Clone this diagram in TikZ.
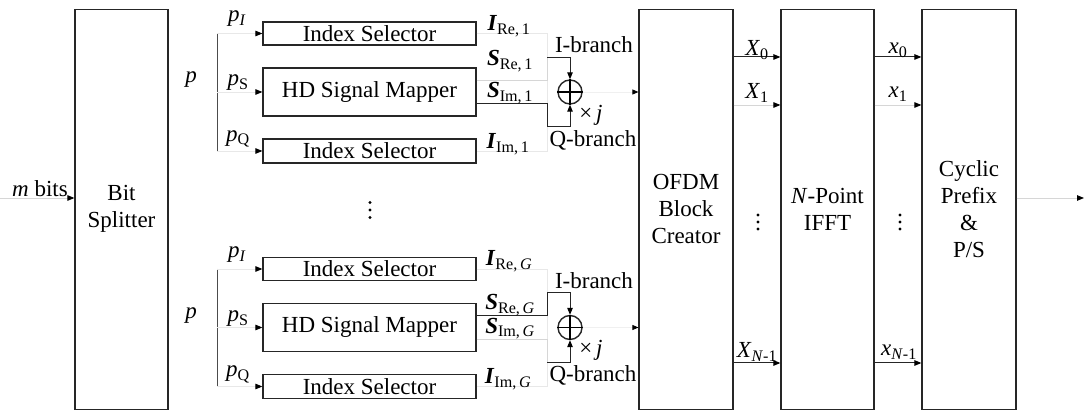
\documentclass[tikz,border=0pt]{standalone}
\usepackage{fontspec}
\setmainfont{Liberation Serif}
\usetikzlibrary{arrows.meta}
\tikzset{
  box/.style={draw=black!85, line width=1.2pt, align=center, inner sep=0pt},
  faint/.style={draw=black!16, line width=0.9pt},
  vfaint/.style={draw=black!9, line width=0.9pt},
  dark/.style={draw=black!85, line width=1pt},
  tip/.style={-{Triangle[length=7pt,width=5.5pt,black]}},
  lbl/.style={inner sep=0pt},
}
\begin{document}
\begin{tikzpicture}[x=1pt,y=-1pt,font=\fontsize{23}{27}\selectfont]
\useasboundingbox (0,0) rectangle (1084,411);
% main blocks
\node[box, minimum width=93pt, minimum height=400pt] (bs) at (121.5,209.3) {Bit\\Splitter};
\node[box, minimum width=94pt, minimum height=400pt] (ofdm) at (686,209.3) {OFDM\\Block\\Creator};
\node[box, minimum width=93pt, minimum height=400pt] (ifft) at (827.5,209.3) {\textit{N}-Point\\IFFT};
\node[box, minimum width=94pt, minimum height=400pt] (cp) at (969,209.3) {Cyclic\\Prefix\\\&\\P/S};
% input / output
\coordinate (in) at (0,198);
\coordinate (out) at (1084,198);
\draw[faint,tip] (in) -- (in -| bs.west);
\node[lbl] (mb) at (40,189) {\textit{m} bits};
\draw[faint,tip] (cp.east |- out) -- (out);
% rows between OFDM / IFFT / CP
\coordinate (r0) at (0,57);
\coordinate (r1) at (0,105);
\coordinate (r2) at (0,363);
\draw[dark,tip] (ofdm.east |- r0) -- (ifft.west |- r0);
\draw[faint,tip] (ofdm.east |- r1) -- (ifft.west |- r1);
\draw[dark,tip] (ofdm.east |- r2) -- (ifft.west |- r2);
\draw[dark,tip] (ifft.east |- r0) -- (cp.west |- r0);
\draw[faint,tip] (ifft.east |- r1) -- (cp.west |- r1);
\draw[dark,tip] (ifft.east |- r2) -- (cp.west |- r2);
\node[lbl] (X0) at (757,50) {\textit{X}\textsubscript{0}};
\node[lbl] (X1) at (757,93) {\textit{X}\textsubscript{1}};
\node[lbl] (XN) at (757,352) {\textit{X}\textsubscript{\textit{N}-1}};
\node[lbl] (x0) at (898,50) {\textit{x}\textsubscript{0}};
\node[lbl] (x1) at (898,94) {\textit{x}\textsubscript{1}};
\node[lbl] (xN) at (899,352) {\textit{x}\textsubscript{\textit{N}-1}};
\foreach \yy in {215,222,229} {
  \fill (758,\yy) circle (1.6);
  \fill (900,\yy) circle (1.6);
}
\foreach \yy in {202.5,210,217.5} { \fill (370,\yy) circle (1.6); }
% the two groups
\foreach \o/\n/\g/\sr/\sa/\sb in {0/a/1/61/faint/dark, 235.5/b/{\textit{G}}/305/dark/faint} {
  \node[box, minimum width=213pt, minimum height=23pt] (isa\n) at (369.5,33.5+\o) {Index Selector};
  \node[box, minimum width=213pt, minimum height=48pt] (hd\n) at (369.5,92+\o) {HD Signal Mapper};
  \node[box, minimum width=213pt, minimum height=24pt] (isb\n) at (369.5,151+\o) {Index Selector};
  % p splitting
  \coordinate (pt\n) at (217,33.5+\o);
  \coordinate (pb\n) at (217,151+\o);
  \draw[line width=1pt, draw=black!70] (pt\n) -- (pb\n);
  \draw[vfaint, tip] (pt\n) -- (isa\n.west);
  \draw[vfaint, tip] (pt\n |- hd\n.west) -- (hd\n.west);
  \draw[vfaint, tip] (pb\n) -- (isb\n.west);
  \node[lbl] (pl\n) at (191,80+\o) {\textit{p}};
  \node[lbl] (pI\n) at (237,19+\o) {\textit{p}\textsubscript{\textit{I}}};
  \node[lbl] (pS\n) at (238,83+\o) {\textit{p}\textsubscript{S}};
  \node[lbl] (pQ\n) at (238,139+\o) {\textit{p}\textsubscript{Q}};
  % adder
  \node[circle, draw=black!85, line width=1.4pt, minimum size=24pt, inner sep=0pt] (sum\n) at (570,92+\o) {};
  \draw[line width=1.5pt] (sum\n.north) -- (sum\n.south) (sum\n.west) -- (sum\n.east);
  % collector lines
  \coordinate (ja\n) at (547,33.5+\o);
  \coordinate (jb\n) at (547,151+\o);
  \coordinate (u\n) at (547,57.5+\o);
  \coordinate (v\n) at (547,80+\o);
  \coordinate (w\n) at (547,104+\o);
  \coordinate (z\n) at (547,127+\o);
  \draw[vfaint] (isa\n.east) -- (ja\n) -- (jb\n) -- (isb\n.east);
  \draw[\sa] (hd\n.east |- v\n) -- (v\n) -- (u\n);
  \draw[\sb] (hd\n.east |- w\n) -- (w\n) -- (z\n);
  \draw[dark,tip] (u\n) -| (sum\n.north);
  \draw[dark,tip] (z\n) -| (sum\n.south);
  \draw[draw=black!6, line width=0.8pt, -{Triangle[length=6pt,width=5pt,black]}] (sum\n.east) -- (ofdm.west |- sum\n.east);
  % labels
  \node[lbl] (lir\n) at (509,26+\o) {\textbf{\textit{I}}\textsubscript{Re,\,\g}};
  \node[lbl] (lsr\n) at (510,\sr) {\textbf{\textit{S}}\textsubscript{Re,\,\g}};
  \node[lbl] (lsi\n) at (510,93+\o) {\textbf{\textit{S}}\textsubscript{Im,\,\g}};
  \node[lbl] (lii\n) at (508,144+\o) {\textbf{\textit{I}}\textsubscript{Im,\,\g}};
  \node[lbl] (ib\n) at (594,45+\o) {I-branch};
  \node[lbl] (qb\n) at (593,140+\o) {Q-branch};
  \node[lbl] (xj\n) at (591,115+\o) {×\,\textit{j}};
}
\end{tikzpicture}
\end{document}
